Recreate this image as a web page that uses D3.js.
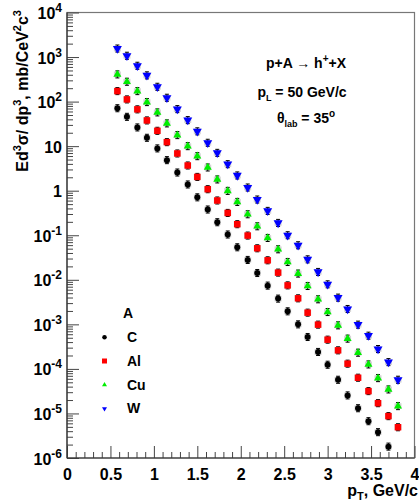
<!DOCTYPE html>
<html><head><meta charset="utf-8">
<script src="https://cdn.jsdelivr.net/npm/d3@7"></script>
<style>
body{margin:0;background:#fff}
svg{display:block;font-family:"Liberation Sans",Arial,Helvetica,sans-serif;font-weight:bold}
</style>
</head><body>
<svg id="c" width="419" height="504"></svg>
<script>
// ---- data ----
const pT = [0.58,0.69,0.81,0.92,1.04,1.15,1.27,1.39,1.50,1.62,1.73,1.85,1.96,2.08,2.19,2.31,2.43,2.54,2.66,2.77,2.89,3.00,3.12,3.23,3.35,3.47,3.58,3.70,3.81];
const sigC  = [71,45.5,26.3,15.4,8.9,4.85,2.56,1.38,0.71,0.378,0.196,0.104,0.0537,0.0279,0.0142,0.0074,0.00378,0.00196,0.00100,0.00052,0.00024,0.000124,0.000057,0.0000254,0.0000131,0.0000067,0.0000038,0.0000018];
const sigAl = [172,112,67,37.8,22.1,12.3,6.85,3.68,2.04,1.08,0.603,0.317,0.177,0.0984,0.051,0.0274,0.0145,0.0075,0.00384,0.00183,0.000985,0.000453,0.000261,0.000131,0.0000634,0.0000317,0.000017,0.0000087,0.0000049];
const sigCu = [408,279,172,97.5,57.2,32.4,17.7,10.0,5.96,3.32,1.79,0.99,0.56,0.296,0.159,0.0869,0.0484,0.0251,0.0138,0.00726,0.00365,0.00189,0.00095,0.000478,0.000231,0.000126,0.0000621,0.0000346,0.0000146];
const sigW  = [1553,1069,637,388,215,122,67.8,38.4,21.5,11.9,7.07,3.94,2.2,1.18,0.634,0.352,0.189,0.1,0.0596,0.0288,0.015,0.00792,0.00398,0.00221,0.000985,0.000557,0.000279,0.000142,0.0000571];
const relErr = 0.2;
const seriesNames = ["C","Al","Cu","W"];
const seriesColors = ["#000000","#ff0000","#00ee00","#0000ff"];
const seriesShapes = ["circle","square","up","down"];
const xMajorTicks = [0,0.5,1,1.5,2,2.5,3,3.5,4];
const xTickLabels = ["0","0.5","1","1.5","2","2.5","3","3.5","4"];
const yExps = [4,3,2,1,0,-1,-2,-3,-4,-5,-6];

// ---- layout ----
const svg = d3.select("#c");
const M = {l:67, r:414.5, t:12.5, b:458};
const x = d3.scaleLinear().domain([0,4]).range([M.l, M.r]);
const y = d3.scaleLog().domain([1e-6,1e4]).range([M.b, M.t]);

// frame
svg.append("rect").attr("x",M.l).attr("y",M.t).attr("width",M.r-M.l).attr("height",M.b-M.t)
  .attr("fill","none").attr("stroke","#777").attr("stroke-width",1.2);

// x axis
const xMinor = d3.range(0,4.0001,0.1).map(v=>+v.toFixed(2)).filter(v=>Math.abs(v*2-Math.round(v*2))>1e-6);
const gx = svg.append("g").attr("transform",`translate(0,${M.b})`)
  .call(d3.axisBottom(x).tickValues(xMajorTicks).tickSize(-12).tickSizeOuter(0).tickPadding(11)
        .tickFormat((d,i)=>xTickLabels[i]));
const gxm = svg.append("g").attr("transform",`translate(0,${M.b})`)
  .call(d3.axisBottom(x).tickValues(xMinor).tickSize(-6).tickSizeOuter(0).tickFormat(""));
[gx,gxm].forEach(g=>{g.select(".domain").remove(); g.selectAll("line").attr("stroke","#444");});
gx.selectAll("text").attr("font-size",16).attr("font-weight","bold").attr("fill","#000")
  .attr("font-family",'"Liberation Sans",Arial,sans-serif');

// y axis
const yMajor = yExps.map(e=>Math.pow(10,e));
const yMinor = [];
for (let e=-6;e<4;e++) for (let k=2;k<=9;k++) yMinor.push(k*Math.pow(10,e));
const gy = svg.append("g").attr("transform",`translate(${M.l},0)`)
  .call(d3.axisLeft(y).tickValues(yMajor).tickSize(-12).tickSizeOuter(0).tickFormat(""));
const gym = svg.append("g").attr("transform",`translate(${M.l},0)`)
  .call(d3.axisLeft(y).tickValues(yMinor).tickSize(-6).tickSizeOuter(0).tickFormat(""));
[gy,gym].forEach(g=>{g.select(".domain").remove(); g.selectAll("line").attr("stroke","#444");});
svg.append("line").attr("x1",M.l).attr("x2",M.l).attr("y1",M.t).attr("y2",M.b).attr("stroke","#333").attr("stroke-width",1.2);
svg.append("line").attr("x1",M.l).attr("x2",M.r).attr("y1",M.b).attr("y2",M.b).attr("stroke","#333").attr("stroke-width",1.2);

// y labels
yExps.forEach(e=>{
  const t = svg.append("text").attr("x",62).attr("y",y(Math.pow(10,e))+6.5)
    .attr("text-anchor","end").attr("font-size",16);
  if (e===0) t.text("1");
  else if (e===1) t.text("10");
  else {
    t.append("tspan").text("10");
    t.append("tspan").attr("font-size",12).attr("dy",-7).text(String(e));
  }
});

// axis titles
const xt = svg.append("text").attr("x",418).attr("y",496).attr("text-anchor","end").attr("font-size",16);
xt.append("tspan").text("p");
xt.append("tspan").attr("font-size",11).attr("dy",4).text("T");
xt.append("tspan").attr("dy",-4).text(", GeV/c");

const yt = svg.append("text").attr("transform","translate(28,10) rotate(-90)")
  .attr("text-anchor","end").attr("font-size",16);
yt.append("tspan").text("Ed");
yt.append("tspan").attr("font-size",11).attr("dy",-7).text("3");
yt.append("tspan").attr("dy",7).text("σ/ dp");
yt.append("tspan").attr("font-size",11).attr("dy",-7).text("3");
yt.append("tspan").attr("dy",7).text(", mb/CeV");
yt.append("tspan").attr("font-size",11).attr("dy",-7).text("2");
yt.append("tspan").attr("dy",7).text("c");
yt.append("tspan").attr("font-size",11).attr("dy",-7).text("3");

// annotations
const a1 = svg.append("text").attr("x",306).attr("y",68).attr("text-anchor","middle").attr("font-size",14);
a1.append("tspan").text("p+A ");
a1.append("tspan").attr("font-weight","normal").text("→");
a1.append("tspan").text(" h");
a1.append("tspan").attr("font-size",10).attr("dy",-6).text("+");
a1.append("tspan").attr("dy",6).text("+X");
const a2 = svg.append("text").attr("x",302).attr("y",97).attr("text-anchor","middle").attr("font-size",14);
a2.append("tspan").text("p");
a2.append("tspan").attr("font-size",9).attr("dy",4).text("L");
a2.append("tspan").attr("dy",-4).text(" = 50 GeV/c");
const a3 = svg.append("text").attr("x",306).attr("y",123).attr("text-anchor","middle").attr("font-size",14);
a3.append("tspan").text("θ");
a3.append("tspan").attr("font-size",9).attr("dy",4).text("lab");
a3.append("tspan").attr("dy",-4).text(" = 35");
a3.append("tspan").attr("font-size",10).attr("dy",-6).text("o");

// marker path
function shapePath(shape, s){
  if (shape==="circle"){ const r=s/2; return `M${-r},0a${r},${r} 0 1,0 ${2*r},0a${r},${r} 0 1,0 ${-2*r},0Z`; }
  if (shape==="square"){ const h=s/2; return `M${-h},${-h}H${h}V${h}H${-h}Z`; }
  const r3 = Math.sqrt(3);
  if (shape==="up") return `M0,${-s/r3}L${s/2},${s/(2*r3)}L${-s/2},${s/(2*r3)}Z`;
  return `M0,${s/r3}L${s/2},${-s/(2*r3)}L${-s/2},${-s/(2*r3)}Z`;
}
const markerSize = {circle:6, square:6.5, up:8, down:9};

// data
const allSeries = [sigC, sigAl, sigCu, sigW];
allSeries.forEach((vals, si)=>{
  const g = svg.append("g");
  const pts = vals.map((v,i)=>({x:pT[i], v}));
  const sel = g.selectAll("g.p").data(pts).join("g").attr("class","p")
    .attr("transform",d=>`translate(${x(d.x)},0)`);
  sel.append("rect").attr("x",-3.5).attr("width",7)
    .attr("y",d=>y(d.v*(1+relErr*0.8))).attr("height",d=>y(d.v/(1+relErr*0.8))-y(d.v*(1+relErr*0.8)))
    .attr("fill","#c4c4c4").attr("opacity",0.75);
  sel.append("line").attr("x1",0).attr("x2",0)
    .attr("y1",d=>y(d.v*(1+relErr))).attr("y2",d=>y(d.v/(1+relErr))).attr("stroke","#000").attr("stroke-width",1);
  sel.append("line").attr("x1",-2).attr("x2",2).attr("y1",d=>y(d.v*(1+relErr))).attr("y2",d=>y(d.v*(1+relErr))).attr("stroke","#000");
  sel.append("line").attr("x1",-2).attr("x2",2).attr("y1",d=>y(d.v/(1+relErr))).attr("y2",d=>y(d.v/(1+relErr))).attr("stroke","#000");
  sel.append("path").attr("transform",d=>`translate(0,${y(d.v)})`)
    .attr("d",shapePath(seriesShapes[si], markerSize[seriesShapes[si]]))
    .attr("fill",seriesColors[si]);
});

// legend
svg.append("text").attr("x",123).attr("y",318).attr("font-size",14).text("A");
seriesNames.forEach((n,i)=>{
  const yy = 342 + i*23.8;
  svg.append("path").attr("transform",`translate(104.5,${yy-4.8})`)
    .attr("d",shapePath(seriesShapes[i], seriesShapes[i]==="circle"?4.5:5))
    .attr("fill",seriesColors[i]);
  svg.append("text").attr("x",127).attr("y",yy).attr("font-size",14).text(n);
});
</script>
</body></html>
